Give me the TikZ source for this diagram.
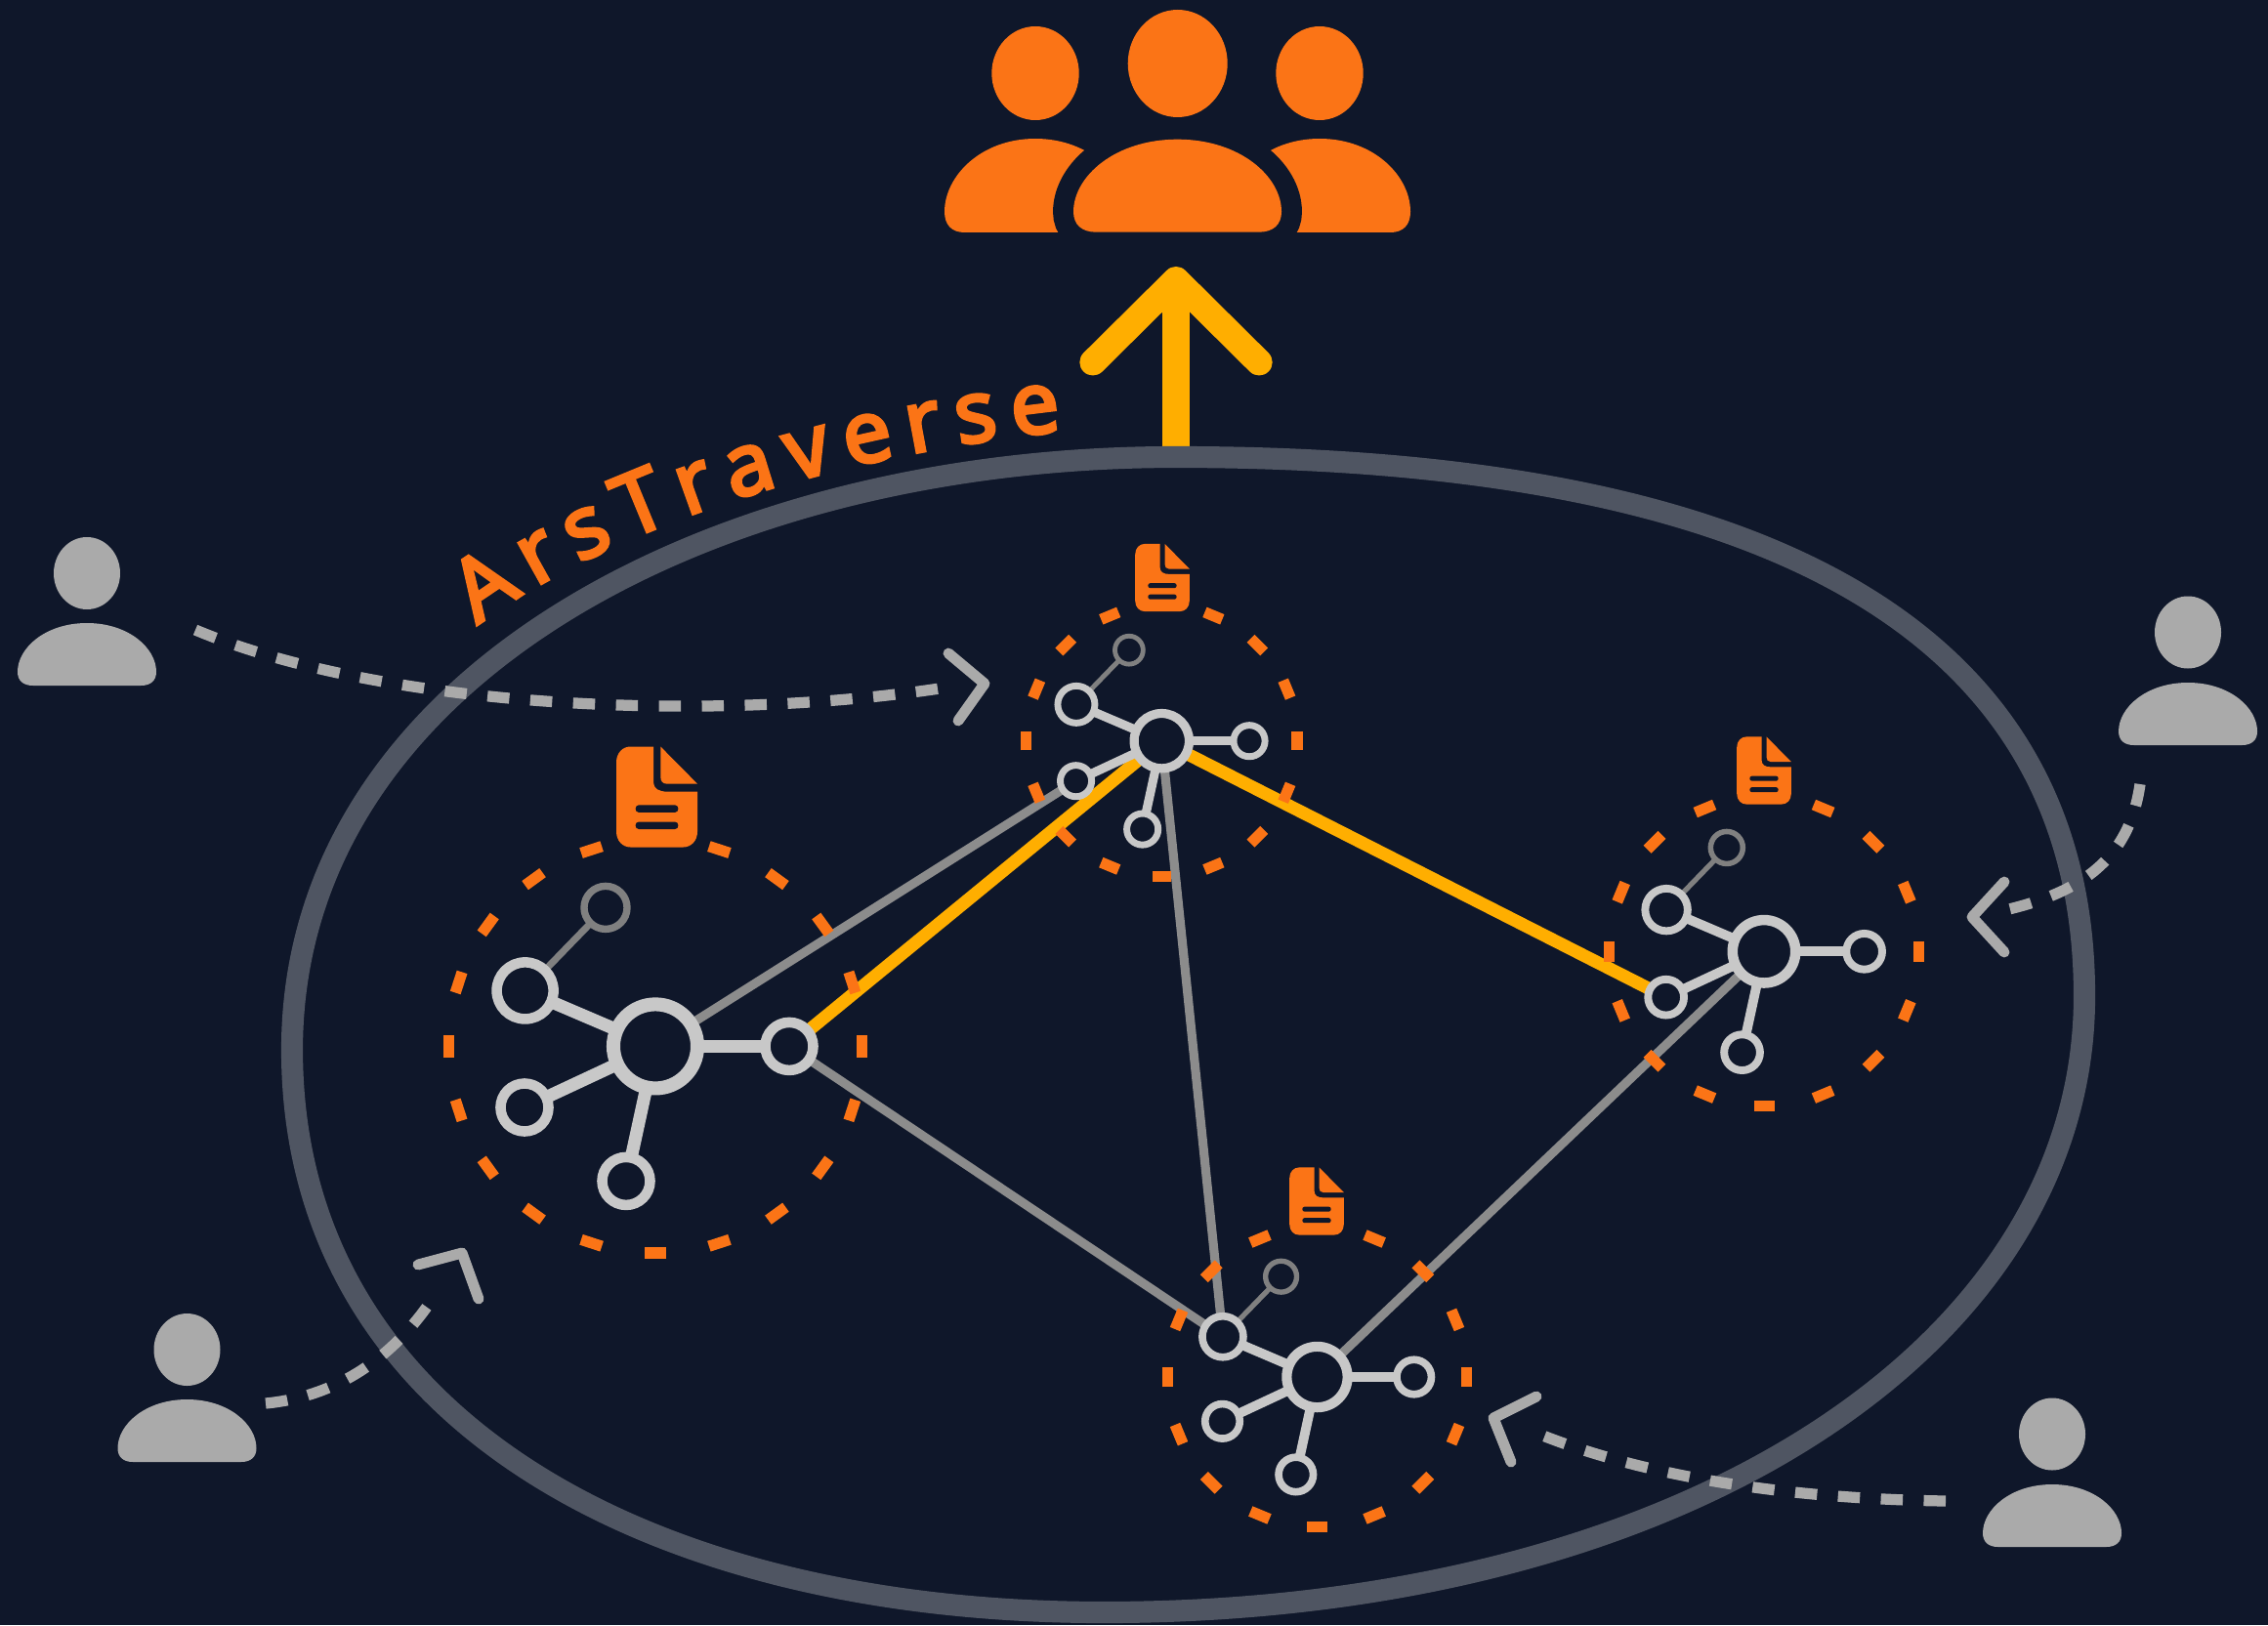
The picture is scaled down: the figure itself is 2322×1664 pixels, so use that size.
\documentclass[tikz,border=0pt]{standalone}
\usepackage{fontspec}
\newfontfamily\arsfont[FakeBold=4]{Noto Sans}
\usetikzlibrary{arrows.meta,backgrounds,decorations.text}
\definecolor{bgnavy}{HTML}{0F172A}
\definecolor{rimgray}{HTML}{4F5562}
\definecolor{arsorange}{HTML}{FB7416}
\definecolor{pathyellow}{HTML}{FFAE00}
\definecolor{linkgray}{HTML}{8C8C8C}
\definecolor{dotgray}{HTML}{C8C8C8}
\definecolor{fargray}{HTML}{808080}
\definecolor{usergray}{HTML}{AAAAAA}
\tikzset{
	hubdot/.style={draw=dotgray,fill=bgnavy,circle,inner sep=0pt},
	fardot/.style={draw=fargray,fill=bgnavy,circle,inner sep=0pt},
	ringtick/.style={draw=arsorange,line width=3.2pt},
	graylink/.style={draw=linkgray,line width=2.6pt},
	yellowlink/.style={draw=pathyellow,line width=3.7pt},
	visitline/.style={draw=usergray,line width=3.2pt,dash pattern=on 6.4pt off 6.1pt},
	visitbarb/.style={draw=usergray,line width=3.1pt,line cap=round,line join=round},
	pics/userbody/.style={code={
		\path[pic actions] (0,0) .. controls (-60,0) and (-100,40) .. (-100,78)
			.. controls (-100,92) and (-92,100) .. (-78,100) -- (78,100)
			.. controls (92,100) and (100,92) .. (100,78)
			.. controls (100,40) and (60,0) .. (0,0) -- cycle;
	}},
	pics/docfile/.style={code={
		\fill[arsorange] (-41.5,-33) .. controls (-41.5,-42) and (-35,-48) .. (-27,-48) -- (-3.5,-48)
			-- (-3.5,-14) .. controls (-3.5,-8) and (2,-5) .. (10.5,-5) -- (41.5,-5) -- (41.5,33)
			.. controls (41.5,42) and (35,48) .. (27,48) -- (-27,48)
			.. controls (-35,48) and (-41.5,42) .. (-41.5,33) -- cycle;
		\fill[arsorange] (3.8,-48) -- (41.5,-12.5) -- (10,-12.5)
			.. controls (6,-12.5) and (3.8,-15) .. (3.8,-19) -- cycle;
		\foreach \ly in {11.3,27.3}
			\fill[bgnavy] (-18.5,\ly-3.5) -- (18.5,\ly-3.5) .. controls (23,\ly-3.5) and (23,\ly+3.5) .. (18.5,\ly+3.5)
				-- (-18.5,\ly+3.5) .. controls (-23,\ly+3.5) and (-23,\ly-3.5) .. (-18.5,\ly-3.5) -- cycle;
	}},
}
% name, centre x, centre y, factor, ring radius, ring step, half a dash
\newcommand{\clusterfig}[7]{
	\node[hubdot,line width=#4*4pt,minimum size=#4*0.86cm] (#1hub) at (#2,#3) {};
	\node[hubdot,line width=#4*3pt,minimum size=#4*0.58cm] (#1up) at (#2-133.4*#4,#3-57*#4) {};
	\node[fardot,line width=#4*2.1pt,minimum size=#4*0.44cm] (#1far) at (#2-51*#4,#3-142*#4) {};
	\node[hubdot,line width=#4*3pt,minimum size=#4*0.49cm] (#1low) at (#2-134*#4,#3+62.6*#4) {};
	\node[hubdot,line width=#4*3pt,minimum size=#4*0.49cm] (#1bot) at (#2-30*#4,#3+138*#4) {};
	\node[hubdot,line width=#4*3pt,minimum size=#4*0.49cm] (#1right) at (#2+137*#4,#3) {};
	\begin{scope}[shift={(#1hub.center)}]
		\foreach \a in {0,#6,...,359}
			\draw[ringtick] (\a-#7:#5) -- (\a+#7:#5);
	\end{scope}
}
\newcommand{\clusterspokes}[2]{
	\foreach \sat in {up,low,bot,right}
		\draw[dotgray,line width=#2*3.7pt] (#1hub.center) -- (#1\sat.center);
	\draw[fargray,line width=#2*2pt] (#1up.center) -- (#1far.center);
}
\begin{document}
\begin{tikzpicture}[x=0.01cm,y=-0.01cm]
	\useasboundingbox (0,0) rectangle (2322,1664);
	% clusters
	\clusterfig{big}{671}{1071.4}{1}{212}{18}{3}
	\clusterfig{top}{1189.3}{758.7}{0.655}{139}{22.5}{4}
	\clusterfig{east}{1806}{974.3}{0.749}{158.7}{22.5}{3.8}
	\clusterfig{south}{1348.5}{1410}{0.724}{153.5}{22.5}{3.9}
	% files
	\pic[xscale=1,yscale=1.073] at (672.5,816) {docfile};
	\pic[xscale=0.67,yscale=0.72] at (1190,591.5) {docfile};
	\pic[xscale=0.67,yscale=0.72] at (1806,789) {docfile};
	\pic[xscale=0.67,yscale=0.72] at (1348,1230) {docfile};
	% rim, links and spokes go under the dots
	\begin{scope}[on background layer]
		\fill[bgnavy] (0,0) rectangle (2322,1664);
		\coordinate (riseStart) at (1204,468);
		\coordinate (riseEnd) at (1204,273);
		\draw[pathyellow,line width=7.7pt,-{Straight Barb[length=24pt,width=48.4pt,line width=7.7pt,round]}] (riseStart) -- (riseEnd);
		\draw[rimgray,line width=6.3pt] (1204,468) .. controls (1800,468) and (2134,640) .. (2134,1020)
			.. controls (2134,1380) and (1720,1651) .. (1130,1651)
			.. controls (660,1651) and (299,1450) .. (299,1075)
			.. controls (299,700) and (720,468) .. (1204,468) -- cycle;
		\draw[graylink] (bighub.center) -- (toplow.center);
		\draw[graylink] (bigright.center) -- (southup.center);
		\draw[graylink] (tophub.center) -- (southup.center);
		\draw[graylink] (easthub.center) -- (southhub.center);
		\draw[yellowlink] (bigright.center) -- (tophub.center);
		\draw[yellowlink] (tophub.center) -- (eastlow.center);
		\clusterspokes{big}{1}
		\clusterspokes{top}{0.7}
		\clusterspokes{east}{0.75}
		\clusterspokes{south}{0.75}
	\end{scope}
	% crowd on top
	\pic[fill=arsorange,xscale=0.93,yscale=0.96] at (1060,142) {userbody};
	\pic[fill=arsorange,xscale=0.93,yscale=0.96] at (1351,142) {userbody};
	\pic[draw=bgnavy,line width=11.9pt,xscale=1.065,yscale=0.95] at (1205.5,142.7) {userbody};
	\pic[fill=arsorange,xscale=1.065,yscale=0.95] at (1205.5,142.7) {userbody};
	\fill[arsorange] (1060,75) ellipse (44.7 and 48);
	\fill[arsorange] (1205.7,65) ellipse (51 and 55);
	\fill[arsorange] (1351,75) ellipse (44.7 and 48);
	% single users
	\pic[fill=usergray,xscale=0.71,yscale=0.64] at (89,638) {userbody};
	\fill[usergray] (89,587) ellipse (34 and 37);
	\pic[fill=usergray,xscale=0.71,yscale=0.64] at (2240,699) {userbody};
	\fill[usergray] (2240,647.5) ellipse (34 and 37);
	\pic[fill=usergray,xscale=0.71,yscale=0.64] at (191.5,1433) {userbody};
	\fill[usergray] (191.5,1382) ellipse (34 and 37);
	\pic[fill=usergray,xscale=0.71,yscale=0.64] at (2101,1520) {userbody};
	\fill[usergray] (2101,1468.5) ellipse (34 and 37);
	% users going in
	\coordinate (visitA) at (200,645);
	\coordinate (visitAend) at (975,703);
	\coordinate (visitB) at (2191,803);
	\coordinate (visitBend) at (2048,933);
	\coordinate (visitC) at (1992,1537);
	\coordinate (visitCend) at (1572,1467);
	\coordinate (visitD) at (272,1437);
	\coordinate (visitDend) at (448,1322);
	\draw[visitline] (visitA) .. controls (390,725) and (730,742) .. (visitAend);
	\draw[visitline] (visitB) .. controls (2180,880) and (2130,915) .. (visitBend);
	\draw[visitline] (visitC) .. controls (1850,1535) and (1695,1517) .. (visitCend);
	\draw[visitline] (visitD) .. controls (345,1430) and (405,1390) .. (visitDend);
	\draw[visitbarb] (971,669) -- (1008,700) -- (981,738);
	\draw[visitbarb] (2052,903) -- (2019,939) -- (2052,975);
	\draw[visitbarb] (1573,1430) -- (1529,1452) -- (1547,1497);
	\draw[visitbarb] (428,1295) -- (473,1283) -- (490,1330);
	% name along the rim
	\coordinate (nameStart) at (489,640);
	\coordinate (nameEnd) at (1087,441);
	\path[decorate,decoration={text along path,text align={fit to path},
		text={|\arsfont\fontsize{25}{25}\selectfont\color{arsorange}|ArsTraverse}}]
		(nameStart) .. controls (610,550) and (820,470) .. (nameEnd);
\end{tikzpicture}
\end{document}
